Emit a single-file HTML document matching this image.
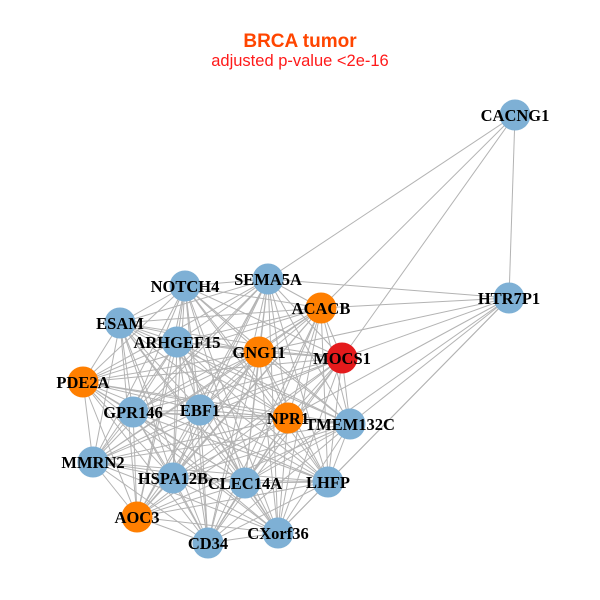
<!DOCTYPE html>
<html><head><meta charset="utf-8"><style>html,body{margin:0;padding:0;background:#fff}svg{display:block}</style></head>
<body>
<svg id="g" width="600" height="600" xmlns="http://www.w3.org/2000/svg">
<rect width="600" height="600" fill="#fff"/>
<text x="300" y="47" text-anchor="middle" font-family="Liberation Sans, sans-serif" font-weight="bold" font-size="19" fill="#FF4500">BRCA tumor</text>
<text x="300" y="66" text-anchor="middle" font-family="Liberation Sans, sans-serif" font-size="16.5" fill="#FF1A1A">adjusted p-value &lt;2e-16</text>
<g id="e" stroke="#b3b3b3" stroke-width="1"></g>
<g id="n"></g>
</svg>
<script>
var N={CACNG1:[515,115,'b'],HTR7P1:[509,298,'b'],SEMA5A:[268,279,'b'],NOTCH4:[185,286,'b'],ACACB:[321,308,'o'],ESAM:[120,323,'b'],ARHGEF15:[177,342,'b'],GNG11:[259,352,'o'],MOCS1:[342,358,'r'],PDE2A:[83,382,'o'],GPR146:[133,412,'b'],EBF1:[200,410,'b'],NPR1:[288,418,'o'],TMEM132C:[350,424,'b'],MMRN2:[93,462,'b'],HSPA12B:[173,478,'b'],CLEC14A:[245,483,'b'],LHFP:[328,482,'b'],AOC3:[137,517,'o'],CD34:[208,543,'b'],CXorf36:[278,533,'b']};
var C={b:'#7EB0D5',o:'#FF7F00',r:'#E41A1C'};
var ns="http://www.w3.org/2000/svg",E=document.getElementById('e'),G=document.getElementById('n');
function line(a,b){var l=document.createElementNS(ns,'line');l.setAttribute('x1',N[a][0]);l.setAttribute('y1',N[a][1]);l.setAttribute('x2',N[b][0]);l.setAttribute('y2',N[b][1]);E.appendChild(l);}
var cl=Object.keys(N).filter(function(k){return k!='CACNG1'&&k!='HTR7P1'});
for(var i=0;i<cl.length;i++)for(var j=i+1;j<cl.length;j++)line(cl[i],cl[j]);
['SEMA5A','ACACB','MOCS1','HTR7P1'].forEach(function(k){line('CACNG1',k)});
['SEMA5A','ACACB','GNG11','MOCS1','NPR1','TMEM132C','LHFP','CXorf36','CLEC14A'].forEach(function(k){line('HTR7P1',k)});
for(var k in N){var c=document.createElementNS(ns,'circle');c.setAttribute('cx',N[k][0]);c.setAttribute('cy',N[k][1]);c.setAttribute('r',15.5);c.setAttribute('fill',C[N[k][2]]);G.appendChild(c);}
for(var k in N){var t=document.createElementNS(ns,'text');t.setAttribute('x',N[k][0]);t.setAttribute('y',N[k][1]+6);t.setAttribute('text-anchor','middle');t.setAttribute('font-family','Liberation Serif, serif');t.setAttribute('font-weight','bold');t.setAttribute('font-size','16.5');t.textContent=k;G.appendChild(t);}
</script>
</body></html>
